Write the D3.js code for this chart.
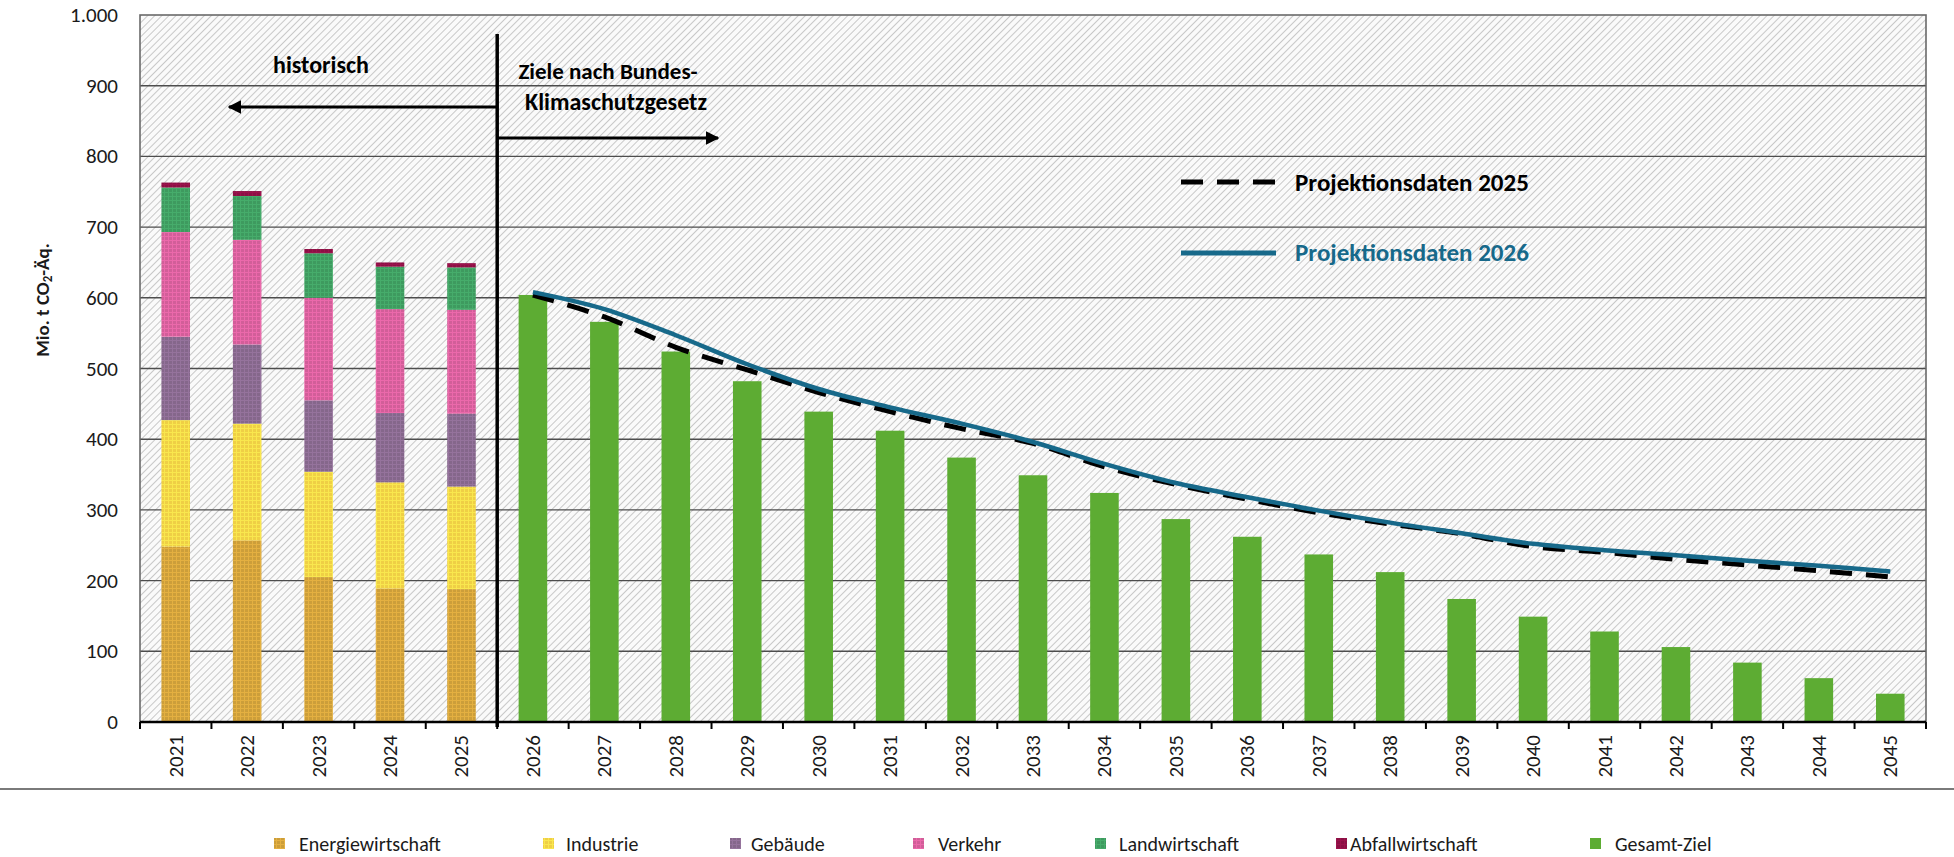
<!DOCTYPE html>
<html>
<head>
<meta charset="utf-8">
<script src="https://cdn.jsdelivr.net/npm/d3@7"></script>
<style>
  body { margin: 0; background: #fff; }
  svg { display: block; font-family: Carlito, Lato, "Open Sans", sans-serif; }
</style>
</head>
<body>
<svg id="chart" width="1954" height="857"></svg>
<script>
// historic sector emissions (Mio. t CO2-Äq.)
var histYears = ["2021", "2022", "2023", "2024", "2025"];
var energie = [248, 257, 205, 189, 188];
var industrie = [179, 165, 149, 150, 145];
var gebaeude = [118, 112, 101, 98, 103];
var verkehr = [148, 148, 145, 147, 147];
var landwirtschaft = [63, 62, 63, 60, 60];
var abfall = [7, 7, 6, 6, 6];

// targets and projections
var zielYears = ["2026", "2027", "2028", "2029", "2030", "2031", "2032", "2033", "2034", "2035",
    "2036", "2037", "2038", "2039", "2040", "2041", "2042", "2043", "2044", "2045"];
var gesamtZiel = [604, 566, 524, 482, 439, 412, 374, 349, 324, 287, 262, 237, 212, 174, 149, 128, 106, 84, 62, 40];
var proj2025 = [604, 573, 530, 498, 466, 439, 415, 394, 361, 336, 315, 296, 280, 266, 248, 240, 230, 222, 214, 205];
var proj2026 = [608, 584, 547, 506, 471, 445, 422, 396, 365, 338, 318, 299, 282, 267, 252, 243, 236, 228, 221, 213];

var yTicks = [0, 100, 200, 300, 400, 500, 600, 700, 800, 900, 1000];

var sectors = [
    { name: "Energiewirtschaft", values: energie, color: "#cc9e3a" },
    { name: "Industrie", values: industrie, color: "#efcf45" },
    { name: "Gebäude", values: gebaeude, color: "#85678b" },
    { name: "Verkehr", values: verkehr, color: "#d25e99" },
    { name: "Landwirtschaft", values: landwirtschaft, color: "#3e9a5f" },
    { name: "Abfallwirtschaft", values: abfall, color: "#8b1044" }
];
var zielColor = "#5dac33";
var tealColor = "#17698a";

var svg = d3.select("#chart");
var plotLeft = 140, plotRight = 1926, plotTop = 15, plotBottom = 722;

var x = d3.scaleBand()
    .domain(histYears.concat(zielYears))
    .range([plotLeft, plotRight])
    .paddingInner(0.6)
    .paddingOuter(0.3);
var step = x.step();

var y = d3.scaleLinear().domain([0, 1000]).range([plotBottom, plotTop]);

var de = d3.formatLocale({ decimal: ",", thousands: ".", grouping: [3], currency: ["", " €"] });
var fmt = de.format(",");

// patterns
var defs = svg.append("defs");
var hatch = defs.append("pattern")
    .attr("id", "hatch")
    .attr("patternUnits", "userSpaceOnUse")
    .attr("width", 5).attr("height", 5)
    .attr("patternTransform", "rotate(45)");
hatch.append("rect").attr("width", 5).attr("height", 5).attr("fill", "#fafafa");
hatch.append("line").attr("x1", 0).attr("y1", 0).attr("x2", 0).attr("y2", 5)
    .attr("stroke", "#b8b8b8").attr("stroke-width", 1.5);

// textured fill for the sector bars
sectors.forEach(function (s, i) {
    var p = defs.append("pattern")
        .attr("id", "tex" + i)
        .attr("patternUnits", "userSpaceOnUse")
        .attr("width", 4).attr("height", 4);
    p.append("rect").attr("width", 4).attr("height", 4).attr("fill", s.color);
    p.append("path").attr("d", "M0,0.5H4M0.5,0V4")
        .attr("stroke", d3.color(s.color).brighter(0.5)).attr("stroke-width", 1).attr("opacity", 0.6);
});

// plot background
svg.append("rect")
    .attr("x", plotLeft).attr("y", plotTop)
    .attr("width", plotRight - plotLeft).attr("height", plotBottom - plotTop)
    .attr("fill", "url(#hatch)");

// grid lines
svg.append("g")
    .selectAll("line")
    .data(yTicks.filter(function (d) { return d > 0 && d < 1000; }))
    .enter()
    .append("line")
    .attr("x1", plotLeft).attr("x2", plotRight)
    .attr("y1", function (d) { return y(d); })
    .attr("y2", function (d) { return y(d); })
    .attr("stroke", "#4d4d4d")
    .attr("stroke-width", 1.4);

// border
svg.append("rect")
    .attr("x", plotLeft).attr("y", plotTop)
    .attr("width", plotRight - plotLeft).attr("height", plotBottom - plotTop)
    .attr("fill", "none")
    .attr("stroke", "#6a6a6a")
    .attr("stroke-width", 1.6);

// stacked historic bars
var stackRows = histYears.map(function (yr, i) {
    var row = { year: yr };
    sectors.forEach(function (s) { row[s.name] = s.values[i]; });
    return row;
});
var stacked = d3.stack().keys(sectors.map(function (s) { return s.name; }))(stackRows);

svg.append("g")
    .selectAll("g")
    .data(stacked)
    .enter()
    .append("g")
    .attr("fill", function (d, i) { return "url(#tex" + i + ")"; })
    .selectAll("rect")
    .data(function (d) { return d; })
    .enter()
    .append("rect")
    .attr("x", function (d) { return x(d.data.year); })
    .attr("width", x.bandwidth())
    .attr("y", function (d) { return y(d[1]); })
    .attr("height", function (d) { return y(d[0]) - y(d[1]); });

// target bars
svg.append("g")
    .selectAll("rect")
    .data(zielYears)
    .enter()
    .append("rect")
    .attr("x", function (d) { return x(d); })
    .attr("width", x.bandwidth())
    .attr("y", function (d, i) { return y(gesamtZiel[i]); })
    .attr("height", function (d, i) { return plotBottom - y(gesamtZiel[i]); })
    .attr("fill", zielColor);

// projection lines
var line = function (vals) {
    return d3.line()
        .x(function (d, i) { return x(zielYears[i]) + x.bandwidth() / 2; })
        .y(function (d) { return y(d); })
        .curve(d3.curveCatmullRom.alpha(0.5))(vals);
};
svg.append("path")
    .attr("d", line(proj2025))
    .attr("fill", "none")
    .attr("stroke", "#000")
    .attr("stroke-width", 5)
    .attr("stroke-dasharray", "22,14");
svg.append("path")
    .attr("d", line(proj2026))
    .attr("fill", "none")
    .attr("stroke", tealColor)
    .attr("stroke-width", 4.5);

// x axis
svg.append("line")
    .attr("x1", plotLeft).attr("x2", plotRight)
    .attr("y1", plotBottom).attr("y2", plotBottom)
    .attr("stroke", "#000").attr("stroke-width", 2.5);
var allYears = histYears.concat(zielYears);
svg.append("g")
    .selectAll("line")
    .data(allYears.concat(["end"]))
    .enter()
    .append("line")
    .attr("x1", function (d, i) { return plotLeft + i * step; })
    .attr("x2", function (d, i) { return plotLeft + i * step; })
    .attr("y1", plotBottom).attr("y2", plotBottom + 7)
    .attr("stroke", "#000").attr("stroke-width", 2);

svg.append("g")
    .selectAll("text")
    .data(allYears)
    .enter()
    .append("text")
    .attr("transform", function (d) {
        return "translate(" + (x(d) + x.bandwidth() / 2 + 7) + "," + (plotBottom + 13) + ") rotate(-90)";
    })
    .attr("text-anchor", "end")
    .style("font-size", "21px")
    .attr("fill", "#1a1a1a")
    .text(function (d) { return d; });

// y axis labels
svg.append("g")
    .selectAll("text")
    .data(yTicks)
    .enter()
    .append("text")
    .attr("x", 118)
    .attr("y", function (d) { return y(d) + 7; })
    .attr("text-anchor", "end")
    .style("font-size", "21px")
    .attr("fill", "#1a1a1a")
    .text(function (d) { return fmt(d); });

var yTitle = svg.append("text")
    .attr("transform", "translate(49,300) rotate(-90)")
    .attr("text-anchor", "middle")
    .style("font-size", "19px")
    .style("font-weight", "bold")
    .attr("fill", "#1a1a1a");
yTitle.append("tspan").text("Mio. t CO");
yTitle.append("tspan").attr("baseline-shift", "-25%").style("font-size", "13px").text("2");
yTitle.append("tspan").text("-Äq.");

// divider and arrows
var divX = x("2026") - x.bandwidth() * 0.75;
svg.append("line")
    .attr("x1", divX).attr("x2", divX)
    .attr("y1", 34).attr("y2", plotBottom + 5)
    .attr("stroke", "#000").attr("stroke-width", 3.5);

defs.append("marker")
    .attr("id", "arrowhead")
    .attr("viewBox", "0 0 10 10")
    .attr("refX", 9).attr("refY", 5)
    .attr("markerWidth", 4.5).attr("markerHeight", 4.5)
    .attr("markerUnits", "strokeWidth")
    .attr("orient", "auto")
    .append("path")
    .attr("d", "M0,0L10,5L0,10z")
    .attr("fill", "#000");

svg.append("line")
    .attr("x1", divX).attr("x2", 229)
    .attr("y1", 107).attr("y2", 107)
    .attr("stroke", "#000").attr("stroke-width", 3)
    .attr("marker-end", "url(#arrowhead)");
svg.append("line")
    .attr("x1", divX).attr("x2", 718)
    .attr("y1", 138).attr("y2", 138)
    .attr("stroke", "#000").attr("stroke-width", 3)
    .attr("marker-end", "url(#arrowhead)");

svg.append("text")
    .attr("x", 321).attr("y", 73)
    .attr("text-anchor", "middle")
    .style("font-size", "24px").style("font-weight", "bold")
    .text("historisch");
svg.append("text")
    .attr("x", 608).attr("y", 79)
    .attr("text-anchor", "middle")
    .style("font-size", "23px").style("font-weight", "bold")
    .text("Ziele nach Bundes-");
svg.append("text")
    .attr("x", 616).attr("y", 110)
    .attr("text-anchor", "middle")
    .style("font-size", "24px").style("font-weight", "bold")
    .text("Klimaschutzgesetz");

// line legend inside the plot
svg.append("line")
    .attr("x1", 1181).attr("x2", 1278)
    .attr("y1", 182).attr("y2", 182)
    .attr("stroke", "#000").attr("stroke-width", 5)
    .attr("stroke-dasharray", "22,14");
svg.append("text")
    .attr("x", 1295).attr("y", 191)
    .style("font-size", "25px").style("font-weight", "bold")
    .text("Projektionsdaten 2025");
svg.append("line")
    .attr("x1", 1181).attr("x2", 1276)
    .attr("y1", 253).attr("y2", 253)
    .attr("stroke", tealColor).attr("stroke-width", 5);
svg.append("text")
    .attr("x", 1295).attr("y", 261)
    .style("font-size", "25px").style("font-weight", "bold")
    .attr("fill", tealColor)
    .text("Projektionsdaten 2026");

// separator rule
svg.append("line")
    .attr("x1", 0).attr("x2", 1954)
    .attr("y1", 789).attr("y2", 789)
    .attr("stroke", "#7a7a7a").attr("stroke-width", 2);

// bottom legend
var legendItems = sectors.map(function (s, i) { return { name: s.name, fill: "url(#tex" + i + ")" }; })
    .concat([{ name: "Gesamt-Ziel", fill: zielColor }]);
var legendX = [274, 543, 730, 913, 1095, 1336, 1590];
var legendTextX = [299, 566, 751, 938, 1119, 1350, 1615];

var lg = svg.append("g")
    .selectAll("g")
    .data(legendItems)
    .enter()
    .append("g");
lg.append("rect")
    .attr("x", function (d, i) { return legendX[i]; })
    .attr("y", 838)
    .attr("width", 11).attr("height", 11)
    .attr("fill", function (d) { return d.fill; });
lg.append("text")
    .attr("x", function (d, i) { return legendTextX[i]; })
    .attr("y", 851)
    .style("font-size", "20px")
    .attr("fill", "#1a1a1a")
    .text(function (d) { return d.name; });
</script>
</body>
</html>
